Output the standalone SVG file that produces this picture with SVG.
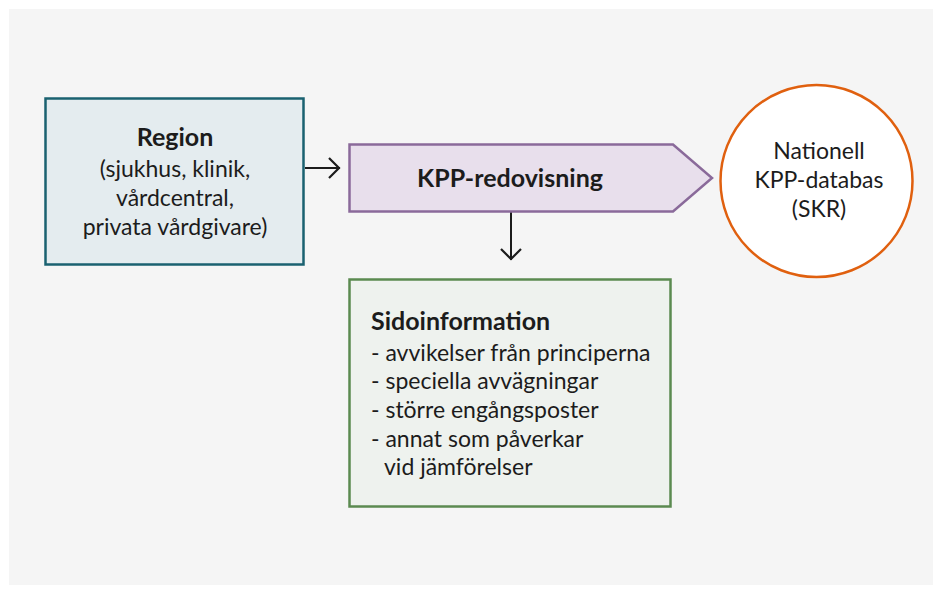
<svg xmlns="http://www.w3.org/2000/svg" width="942" height="594" viewBox="0 0 942 594">
<defs>
<style>
text{font-family:Lato,"Noto Sans","Liberation Sans",sans-serif;fill:#1c1c1c;font-size:23px}
.b{font-weight:bold;font-size:25px}
.c{text-anchor:middle}
.conn{stroke:#1c1c1c;stroke-width:2;fill:none}
</style>
<marker id="arr" viewBox="0 0 14 22" refX="13" refY="11" markerWidth="14" markerHeight="22" markerUnits="userSpaceOnUse" orient="auto">
<path d="M2,1 L12,11 L2,21" fill="none" stroke="#1c1c1c" stroke-width="2.2"/>
</marker>
</defs>
<rect x="0" y="0" width="942" height="594" fill="#ffffff"/>
<rect x="9" y="9" width="924" height="576" fill="#f5f5f5"/>
<g id="connectors">
<line class="conn" x1="305" y1="168" x2="340" y2="168" marker-end="url(#arr)"/>
<line class="conn" x1="511" y1="212" x2="511" y2="260" marker-end="url(#arr)"/>
</g>
<g id="region">
<rect x="45.5" y="98.5" width="258" height="166" fill="#e4ecef" stroke="#1a6170" stroke-width="2.5"/>
<text class="b c" x="175" y="146">Region</text>
<text class="c" x="175" y="177">(sjukhus, klinik,</text>
<text class="c" x="175" y="206">vårdcentral,</text>
<text class="c" x="175" y="235">privata vårdgivare)</text>
</g>
<g id="kpp">
<polygon points="349.5,144.5 673,144.5 712,178 673,211.5 349.5,211.5" fill="#e8dfec" stroke="#8a6a9a" stroke-width="2.5"/>
<text class="b c" x="510" y="187">KPP-redovisning</text>
</g>
<g id="nationell">
<circle cx="816.5" cy="181" r="96" fill="#ffffff" stroke="#e0600f" stroke-width="2.5"/>
<text class="c" x="819" y="159">Nationell</text>
<text class="c" x="819" y="188">KPP-databas</text>
<text class="c" x="819" y="217">(SKR)</text>
</g>
<g id="sidoinformation">
<rect x="349.5" y="279.5" width="321" height="227" fill="#eef2ee" stroke="#5b8a50" stroke-width="2.5"/>
<text class="b" x="371" y="330">Sidoinformation</text>
<text x="371" y="361">- avvikelser från principerna</text>
<text x="371" y="389">- speciella avvägningar</text>
<text x="371" y="418">- större engångsposter</text>
<text x="371" y="447">- annat som påverkar</text>
<text x="384" y="475">vid jämförelser</text>
</g>
</svg>
